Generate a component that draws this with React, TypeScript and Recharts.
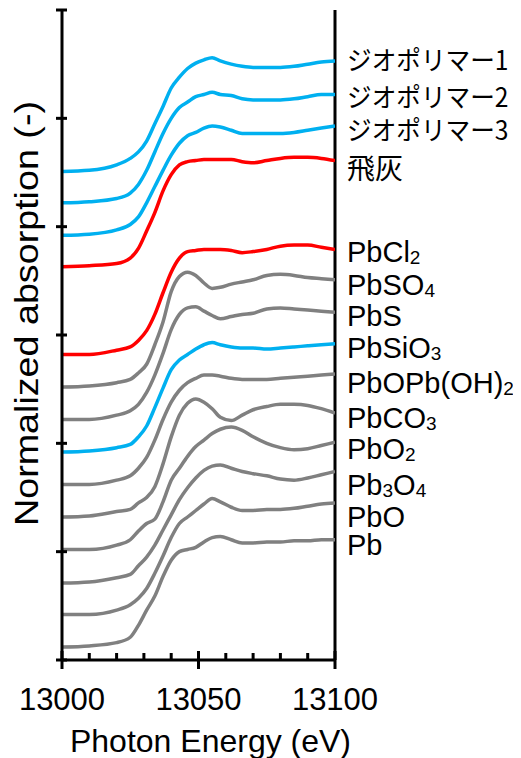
import React from "react";
import { LineChart, Line, XAxis, YAxis, ReferenceLine, LabelList } from "recharts";

const energies = [13000, 13010, 13020, 13025, 13028, 13031, 13034, 13037, 13040, 13043, 13046, 13049, 13052, 13055, 13058, 13062, 13066, 13070, 13075, 13080, 13085, 13090, 13095, 13100];

const seriesNames = ["ジオポリマー1", "ジオポリマー2", "ジオポリマー3", "飛灰", "PbCl2", "PbSO4", "PbS", "PbSiO3", "PbOPb(OH)2", "PbCO3", "PbO2", "Pb3O4", "PbO", "Pb"];

const geo1 = [4.51, 4.52, 4.57, 4.63, 4.69, 4.79, 4.95, 5.11, 5.28, 5.38, 5.46, 5.51, 5.54, 5.56, 5.53, 5.50, 5.48, 5.47, 5.47, 5.47, 5.48, 5.50, 5.52, 5.53];
const geo2 = [4.22, 4.23, 4.26, 4.31, 4.39, 4.52, 4.69, 4.86, 5.00, 5.10, 5.15, 5.20, 5.22, 5.24, 5.22, 5.21, 5.18, 5.17, 5.17, 5.17, 5.18, 5.20, 5.22, 5.22];
const geo3 = [3.92, 3.93, 3.97, 4.02, 4.09, 4.22, 4.37, 4.52, 4.66, 4.77, 4.84, 4.87, 4.91, 4.93, 4.92, 4.89, 4.86, 4.86, 4.86, 4.86, 4.87, 4.89, 4.91, 4.93];
const flyAsh = [3.63, 3.64, 3.66, 3.71, 3.80, 3.96, 4.13, 4.33, 4.48, 4.57, 4.60, 4.61, 4.62, 4.62, 4.62, 4.62, 4.60, 4.59, 4.61, 4.63, 4.64, 4.64, 4.63, 4.61];
const pbCl2 = [2.82, 2.82, 2.86, 2.89, 2.95, 3.04, 3.19, 3.39, 3.58, 3.71, 3.77, 3.78, 3.79, 3.79, 3.79, 3.78, 3.76, 3.77, 3.79, 3.82, 3.83, 3.83, 3.81, 3.79];
const pbSO4 = [2.52, 2.53, 2.56, 2.59, 2.65, 2.73, 2.91, 3.12, 3.40, 3.54, 3.58, 3.55, 3.48, 3.43, 3.44, 3.47, 3.49, 3.51, 3.55, 3.56, 3.55, 3.53, 3.52, 3.51];
const pbS = [2.22, 2.22, 2.26, 2.30, 2.36, 2.47, 2.63, 2.83, 3.05, 3.19, 3.25, 3.26, 3.22, 3.18, 3.15, 3.17, 3.19, 3.20, 3.24, 3.25, 3.24, 3.23, 3.22, 3.21];
const pbSiO3 = [1.92, 1.93, 1.96, 1.99, 2.06, 2.16, 2.33, 2.51, 2.68, 2.77, 2.82, 2.87, 2.91, 2.93, 2.91, 2.89, 2.88, 2.88, 2.87, 2.88, 2.89, 2.90, 2.91, 2.92];
const pbOPbOH2 = [1.62, 1.62, 1.66, 1.70, 1.77, 1.87, 2.03, 2.22, 2.38, 2.49, 2.56, 2.60, 2.63, 2.63, 2.62, 2.60, 2.59, 2.59, 2.59, 2.60, 2.61, 2.62, 2.63, 2.64];
const pbCO3 = [1.32, 1.33, 1.37, 1.39, 1.45, 1.50, 1.60, 1.81, 2.06, 2.26, 2.37, 2.41, 2.38, 2.32, 2.24, 2.21, 2.26, 2.31, 2.34, 2.36, 2.36, 2.35, 2.32, 2.28];
const pbO2 = [1.02, 1.02, 1.06, 1.11, 1.19, 1.26, 1.30, 1.46, 1.66, 1.77, 1.88, 1.97, 2.03, 2.09, 2.13, 2.15, 2.12, 2.06, 2.00, 1.96, 1.94, 1.95, 1.98, 2.01];
const pb3O4 = [0.71, 0.72, 0.76, 0.79, 0.87, 0.95, 1.06, 1.20, 1.34, 1.48, 1.59, 1.68, 1.75, 1.79, 1.80, 1.77, 1.74, 1.72, 1.70, 1.67, 1.66, 1.68, 1.71, 1.74];
const pbO = [0.42, 0.42, 0.46, 0.51, 0.57, 0.66, 0.80, 0.96, 1.13, 1.26, 1.32, 1.38, 1.44, 1.49, 1.46, 1.41, 1.38, 1.38, 1.39, 1.39, 1.40, 1.42, 1.44, 1.45];
const pb = [0.12, 0.13, 0.16, 0.21, 0.32, 0.46, 0.59, 0.77, 0.92, 1.00, 1.02, 1.04, 1.09, 1.13, 1.14, 1.11, 1.08, 1.08, 1.09, 1.09, 1.10, 1.10, 1.11, 1.11];

const seriesValues = [geo1, geo2, geo3, flyAsh, pbCl2, pbSO4, pbS, pbSiO3, pbOPbOH2, pbCO3, pbO2, pb3O4, pbO, pb];

const xTicks = [13000, 13010, 13020, 13030, 13040, 13050, 13060, 13070, 13080, 13090, 13100];
const yTicks = [0, 1, 2, 3, 4, 5, 6];

const xTitle = "Photon Energy (eV)";
const yTitle = "Normalized absorption (-)";

// styles
const BLUE = "#00B0F0";
const RED = "#FF0000";
const GRAY = "#808080";
const seriesColors = [BLUE, BLUE, BLUE, RED, RED, GRAY, GRAY, BLUE, GRAY, GRAY, GRAY, GRAY, GRAY, GRAY];
const labelOffsets = [9, 12, 14, 18, 12.5, 15, 14, 14, 19, 15, 17, 23, 24, 15];
const FONT = "'Liberation Sans', Arial, sans-serif";
const CJK = "'Noto Sans CJK JP', sans-serif";

const tableData = energies.map((e, r) => {
  const row: Record<string, number | string | null> = { E: e };
  seriesValues.forEach((vals, i) => {
    row["s" + i] = vals[r];
    row["lab" + i] = r === energies.length - 1 ? seriesNames[i] : null;
  });
  return row;
});

const XTick = (props: any) => {
  const { x, y, payload } = props;
  const v = payload.value;
  const major = v % 50 === 0;
  return (
    <g>
      <line x1={x} x2={x} y1={major ? y - 9 : y - 7} y2={major ? y + 9 : y} stroke="#000" strokeWidth={3} />
      {major && (
        <text x={x} y={y + 50} textAnchor="middle" fontSize={31} fontFamily={FONT} fill="#000">
          {v}
        </text>
      )}
    </g>
  );
};

const YTick = (props: any) => {
  const { x, y } = props;
  return <line x1={x - 6} x2={x + 5} y1={y} y2={y} stroke="#000" strokeWidth={3} />;
};

const makeLabel = (i: number) => (props: any) => {
  const { x, y, value } = props;
  if (value === null || value === undefined || value === "") return null;
  const name = String(value);
  const tx = x + 12;
  const ty = y + labelOffsets[i];
  if (!name.startsWith("Pb")) {
    const isGeo = name.length > 3;
    return (
      <text
        x={0}
        y={0}
        transform={`translate(${tx} ${ty}) scale(${isGeo ? 0.93 : 1} 1)`}
        fontSize={isGeo ? 26.5 : 28}
        fontFamily={CJK}
        fill="#000"
      >
        {name}
      </text>
    );
  }
  const parts = name.match(/\d+|\D+/g) || [name];
  let shifted = false;
  return (
    <text x={tx} y={ty} fontSize={29} fontFamily={FONT} fill="#000">
      {parts.map((p, k) => {
        const isSub = /^\d+$/.test(p);
        let dy = 0;
        if (isSub && !shifted) {
          dy = 2;
          shifted = true;
        } else if (!isSub && shifted) {
          dy = -2;
          shifted = false;
        }
        return (
          <tspan key={k} dy={dy} fontSize={isSub ? 19 : 29}>
            {p}
          </tspan>
        );
      })}
    </text>
  );
};

const XTitle = (props: any) => {
  const vb = props.viewBox;
  return (
    <text x={vb.x + vb.width / 2 + 12} y={vb.y + 92} textAnchor="middle" fontSize={32} fontFamily={FONT} fill="#000">
      {xTitle}
    </text>
  );
};

const YTitle = (props: any) => {
  const vb = props.viewBox;
  const cx = 30;
  const cy = vb.y + vb.height / 2 - 21.5;
  return (
    <text
      x={cx}
      y={cy}
      transform={`rotate(-90 ${cx} ${cy})`}
      textAnchor="middle"
      fontSize={33}
      fontFamily={FONT}
      fill="#000"
      textLength={425}
      lengthAdjust="spacingAndGlyphs"
    >
      {yTitle}
    </text>
  );
};

export default function App() {
  return (
    <div style={{ width: 513, height: 750 }}>
      <LineChart width={513} height={750} data={tableData} margin={{ top: 2, right: 186, bottom: 0, left: 0 }}>
        <XAxis
          dataKey="E"
          type="number"
          domain={[13000, 13100]}
          ticks={xTicks}
          interval={0}
          height={98}
          tickSize={0}
          tickMargin={0}
          tickLine={false}
          axisLine={{ stroke: "#000", strokeWidth: 3 }}
          tick={<XTick />}
          label={{ content: XTitle }}
          allowDataOverflow
        />
        <YAxis
          type="number"
          domain={[0, 6]}
          ticks={yTicks}
          interval={0}
          width={54}
          tickSize={0}
          tickMargin={0}
          tickLine={false}
          axisLine={{ stroke: "#000", strokeWidth: 3 }}
          tick={<YTick />}
          label={{ content: YTitle }}
          allowDataOverflow
        />
        <ReferenceLine x={13100} stroke="#000" strokeWidth={3} />
        {seriesNames.map((name, i) => (
          <Line
            key={name}
            dataKey={"s" + i}
            name={name}
            type="monotone"
            stroke={seriesColors[i]}
            strokeWidth={3.5}
            dot={false}
            activeDot={false}
            isAnimationActive={false}
          >
            <LabelList dataKey={"lab" + i} content={makeLabel(i)} />
          </Line>
        ))}
      </LineChart>
    </div>
  );
}
